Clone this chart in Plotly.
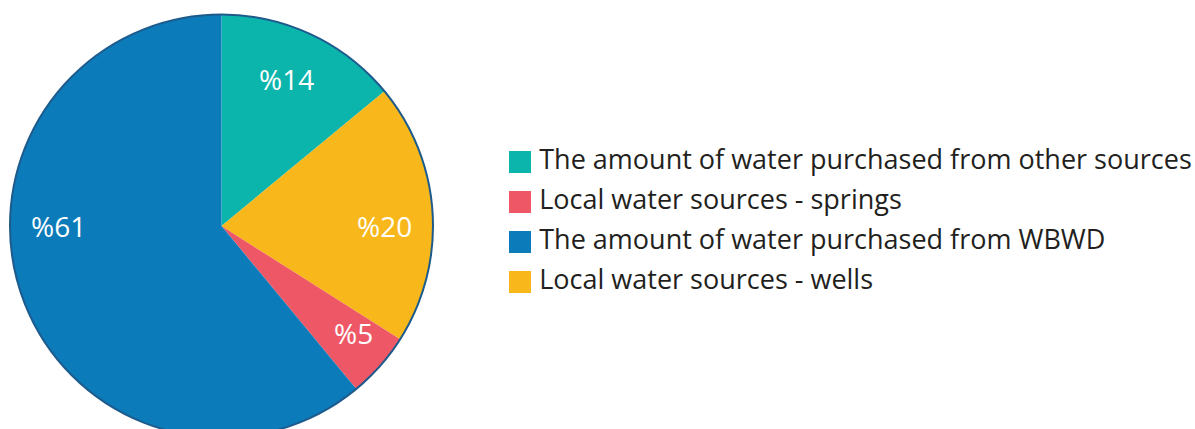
import plotly.graph_objects as go

# Water supply sources and their share of total supply (%)
sources = [
    "The amount of water purchased from other sources",
    "Local water sources - springs",
    "The amount of water purchased from WBWD",
    "Local water sources - wells",
]
shares = [14, 5, 61, 20]
colors = ["#0bb5ac", "#ee5866", "#0c7bba", "#f8b71a"]

# order in which the slices run clockwise from 12 o'clock
pie_order = [0, 3, 1, 2]

W, H = 1195, 440
FONT = "Open Sans"

# pie placement in pixels
cx, cy, R = 221.5, 226, 211.5

# label anchor points (pixels) for each source's percentage
label_px = [(286, 79), (353, 333), (58, 226), (384, 226)]

fig = go.Figure()

fig.add_trace(go.Pie(
    labels=[sources[i] for i in pie_order],
    values=[shares[i] for i in pie_order],
    marker=dict(colors=[colors[i] for i in pie_order], line=dict(width=0)),
    sort=False,
    direction="clockwise",
    rotation=0,
    textinfo="none",
    showlegend=False,
    hoverinfo="label+value",
    domain=dict(x=[(cx - R) / W, (cx + R) / W],
                y=[1 - (cy + R) / H, 1 - (cy - R) / H]),
))

# legend: one square marker per source, listed top to bottom
rows = list(range(len(sources)))
fig.add_trace(go.Scatter(
    x=[0] * len(sources),
    y=rows,
    mode="markers+text",
    marker=dict(symbol="square", size=22, color=colors, line=dict(width=0)),
    text=["\u2009" + s for s in sources],
    textposition="middle right",
    textfont=dict(family=FONT, size=27, color="#231f20"),
    cliponaxis=False,
    hoverinfo="skip",
    showlegend=False,
    xaxis="x",
    yaxis="y",
))

row_top, row_gap = 162, 40
y_lo = row_top - row_gap / 2
y_hi = row_top + row_gap * (len(sources) - 0.5)

annotations = [
    dict(
        x=px / W, y=1 - py / H, xref="paper", yref="paper",
        text=f"%{v}", showarrow=False, xanchor="center", yanchor="middle",
        font=dict(family=FONT, size=28, color="white"),
    )
    for v, (px, py) in zip(shares, label_px)
]

fig.update_layout(
    width=W,
    height=H,
    margin=dict(l=0, r=0, t=0, b=0),
    paper_bgcolor="white",
    plot_bgcolor="rgba(0,0,0,0)",
    xaxis=dict(domain=[500 / W, 540 / W], range=[-1, 1], visible=False, fixedrange=True),
    yaxis=dict(domain=[1 - y_hi / H, 1 - y_lo / H], range=[len(sources) - 0.5, -0.5],
               visible=False, fixedrange=True),
    annotations=annotations,
    shapes=[dict(
        type="circle", xref="paper", yref="paper",
        x0=(cx - R) / W, x1=(cx + R) / W,
        y0=1 - (cy + R) / H, y1=1 - (cy - R) / H,
        line=dict(color="#1d5b8c", width=2),
        fillcolor="rgba(0,0,0,0)",
        layer="above",
    )],
)

fig.write_html(
    "out.html",
    config=dict(displayModeBar=False),
    post_script="document.documentElement.style.overflow='hidden';document.body.style.overflow='hidden';document.body.style.margin='0';",
)
